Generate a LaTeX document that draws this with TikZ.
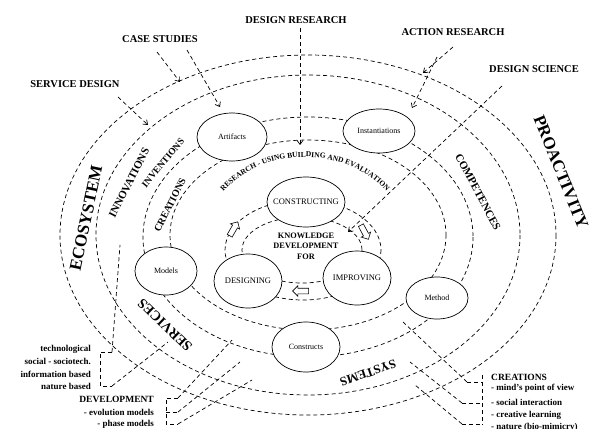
\documentclass[tikz,border=0pt]{standalone}
\usepackage{fontspec}
\setmainfont{Liberation Serif}
\usetikzlibrary{arrows.meta,shapes.geometric,shapes.arrows,decorations.text}
\begin{document}
\begin{tikzpicture}[x=1pt,y=-1pt,
  dl/.style={draw, line width=0.7pt, dash pattern=on 4pt off 3pt},
  arr/.style={dl, -{Straight Barb[length=4pt,width=6pt]}},
  ring/.style={dl},
  nd/.style={ellipse, draw, fill=white, line width=0.7pt, inner sep=0pt},
  ntext/.style={font=\fontsize{8}{9}\selectfont, inner sep=0pt},
  btext/.style={font=\fontsize{8.5}{10}\selectfont, inner sep=0pt},
  lab/.style={font=\bfseries\fontsize{10.5}{12}\selectfont, inner sep=0pt},
  ann/.style={font=\bfseries\fontsize{9}{11}\selectfont, inner sep=0pt},
  band/.style={inner sep=0pt},
  blk/.style={single arrow, draw, fill=white, line width=0.6pt, minimum height=16pt, inner xsep=1pt, inner ysep=2.5pt, single arrow head extend=2.5pt}
]
\useasboundingbox (0,0) rectangle (601,428);
\fill[white] (0,0) rectangle (601,428);

% concentric rings
\draw[ring] (308,235) ellipse [x radius=248, y radius=180];
\draw[ring] (308,235) ellipse [x radius=212, y radius=160];
\draw[ring] (308,237) ellipse [x radius=165, y radius=120];
\draw[ring] (308,235) ellipse [x radius=138, y radius=95];
% knowledge development rings
\draw[ring] (303,250) ellipse [x radius=78, y radius=50];
\draw[ring] (302,250) ellipse [x radius=60, y radius=33];

% top labels
\node[lab] (cs) at (160,39) {CASE STUDIES};
\node[lab] (sd) at (75,84) {SERVICE DESIGN};
\node[lab] (dr) at (296,20) {DESIGN RESEARCH};
\node[lab] (ar) at (453,32) {ACTION RESEARCH};
\node[lab] (ds) at (534,69) {DESIGN SCIENCE};

% label arrows
\coordinate (csS1) at (157,52); \coordinate (csE1) at (180,82);
\coordinate (csS2) at (187,50); \coordinate (csE2) at (220,107);
\draw[arr] (csS1) -- (csE1);
\draw[arr] (csS2) -- (csE2);
\coordinate (sdS) at (118,97); \coordinate (sdE) at (148,125);
\draw[arr] (sdS) -- (sdE);
\coordinate (drS) at (300,28); \coordinate (drE) at (300,145);
\draw[arr] (drS) -- (drE);
\coordinate (arS1) at (453,47); \coordinate (arE1) at (423,73);
\coordinate (arS2) at (437,57); \coordinate (arE2) at (412,108);
\draw[arr] (arS1) -- (arE1);
\draw[arr] (arS2) -- (arE2);
\coordinate (dsS) at (502,86); \coordinate (dsE) at (348,232);
\draw[arr] (dsS) -- (dsE);

% bottom-left bracket
\coordinate (b1t) at (112,352); \coordinate (b1b) at (112,386);
\coordinate (b1u) at (120,245); \coordinate (b1r) at (168,342);
\draw[dl] (b1t) -- (100,352) -- (100,386) -- (b1b);
\draw[dl] (b1t) -- (b1u);
\draw[dl] (b1b) -- (b1r);
\node[ann, anchor=east] (t1) at (91,349) {technological};
\node[ann, anchor=east] (t2) at (91,361) {social - sociotech.};
\node[ann, anchor=east] (t3) at (91,374) {information based};
\node[ann, anchor=east] (t4) at (91,386) {nature based};

% development bracket
\coordinate (d1) at (178,398); \coordinate (d2) at (178,412); \coordinate (d3) at (178,424);
\coordinate (d1e) at (232,340); \coordinate (d2e) at (240,362); \coordinate (d3e) at (252,380);
\draw[dl] (d1) -- (166,398) -- (166,424) -- (d3);
\draw[dl] (166,412) -- (d2);
\draw[dl] (d1) -- (d1e);
\draw[dl] (d2) -- (d2e);
\draw[dl] (d3) -- (d3e);
\node[ann, anchor=east, font=\bfseries\fontsize{9.5}{11}\selectfont] (dv) at (154,399) {DEVELOPMENT};
\node[ann, anchor=east] (dv1) at (154,412) {- evolution models};
\node[ann, anchor=east] (dv2) at (154,424) {- phase models};

% creations bracket
\coordinate (c1) at (467,382); \coordinate (c2) at (462,403); \coordinate (c3) at (462,424);
\coordinate (c1e) at (403,322); \coordinate (c2e) at (410,362); \coordinate (c3e) at (415,385);
\draw[dl] (482,375) -- (482,425);
\draw[dl] (c1) -- (482,382);
\draw[dl] (c2) -- (482,403);
\draw[dl] (c3) -- (482,424);
\draw[dl] (c1) -- (c1e);
\draw[dl] (c2) -- (c2e);
\draw[dl] (c3) -- (c3e);
\node[ann, anchor=west, font=\bfseries\fontsize{9.5}{11}\selectfont] (cr) at (491,377) {CREATIONS};
\node[ann, anchor=west] (cr1) at (491,388) {- mind's point of view};
\node[ann, anchor=west] (cr2) at (491,402) {- social interaction};
\node[ann, anchor=west] (cr3) at (491,415) {- creative learning};
\node[ann, anchor=west] (cr4) at (491,427) {- nature (bio-mimicry)};

% arc text
\path[decorate, decoration={text along path, text align=center,
  text={|\bfseries\fontsize{7.5}{9}\selectfont|RESEARCH - USING BUILDING AND EVALUATION}}]
  (305,250) ++(-150:105 and 93) arc[start angle=-150, end angle=-30, x radius=105, y radius=93];

% nodes
\node[nd, minimum width=70pt, minimum height=48pt, label={[ntext]center:Artifacts}] (art) at (232,137) {};
\node[nd, minimum width=72pt, minimum height=44pt, label={[ntext]center:Instantiations}] (ins) at (379,131) {};
\node[nd, minimum width=62pt, minimum height=48pt, label={[ntext]center:Models}] (mod) at (166,271) {};
\node[nd, minimum width=62pt, minimum height=42pt, label={[ntext]center:Method}] (met) at (437,298) {};
\node[nd, minimum width=68pt, minimum height=50pt, label={[ntext]center:Constructs}] (con) at (306,347) {};
\node[nd, minimum width=78pt, minimum height=50pt, label={[btext]center:CONSTRUCTING}] (cing) at (306,202) {};
\node[nd, minimum width=68pt, minimum height=54pt, label={[btext]center:DESIGNING}] (des) at (248,281) {};
\node[nd, minimum width=68pt, minimum height=54pt, label={[btext]center:IMPROVING}] (imp) at (357,278) {};

% block arrows
\node[blk, rotate=60] (ba1) at (233,230) {};
\node[blk, rotate=-62] (ba2) at (364,231) {};
\node[blk, rotate=180] (ba3) at (302,291) {};

% knowledge development
\node[align=center, font=\bfseries\fontsize{8.3}{10.5}\selectfont, inner sep=0pt] (kd) at (306,246) {KNOWLEDGE\\DEVELOPMENT\\FOR};

% band words
\node[band, rotate=78, font=\bfseries\fontsize{17}{20}\selectfont] (eco) at (86,218) {ECOSYSTEM};
\node[band, rotate=-68, font=\bfseries\fontsize{17}{20}\selectfont] (pro) at (561,172) {PROACTIVITY};
\node[band, rotate=63, font=\bfseries\fontsize{11}{13}\selectfont] (inno) at (129,183) {INNOVATIONS};
\node[band, rotate=50, font=\bfseries\fontsize{9.5}{11}\selectfont] (inve) at (163,163) {INVENTIONS};
\node[band, rotate=63, font=\bfseries\fontsize{10}{12}\selectfont] (crea) at (170,205) {CREATIONS};
\node[band, rotate=-62, font=\bfseries\fontsize{11}{13}\selectfont] (comp) at (478,192) {COMPETENCES};
\node[band, rotate=136, font=\bfseries\fontsize{14}{16}\selectfont] (serv) at (165,325) {SERVICES};
\node[band, rotate=199, font=\bfseries\fontsize{12.5}{14}\selectfont] (syst) at (368,373) {SYSTEMS};
\end{tikzpicture}
\end{document}
